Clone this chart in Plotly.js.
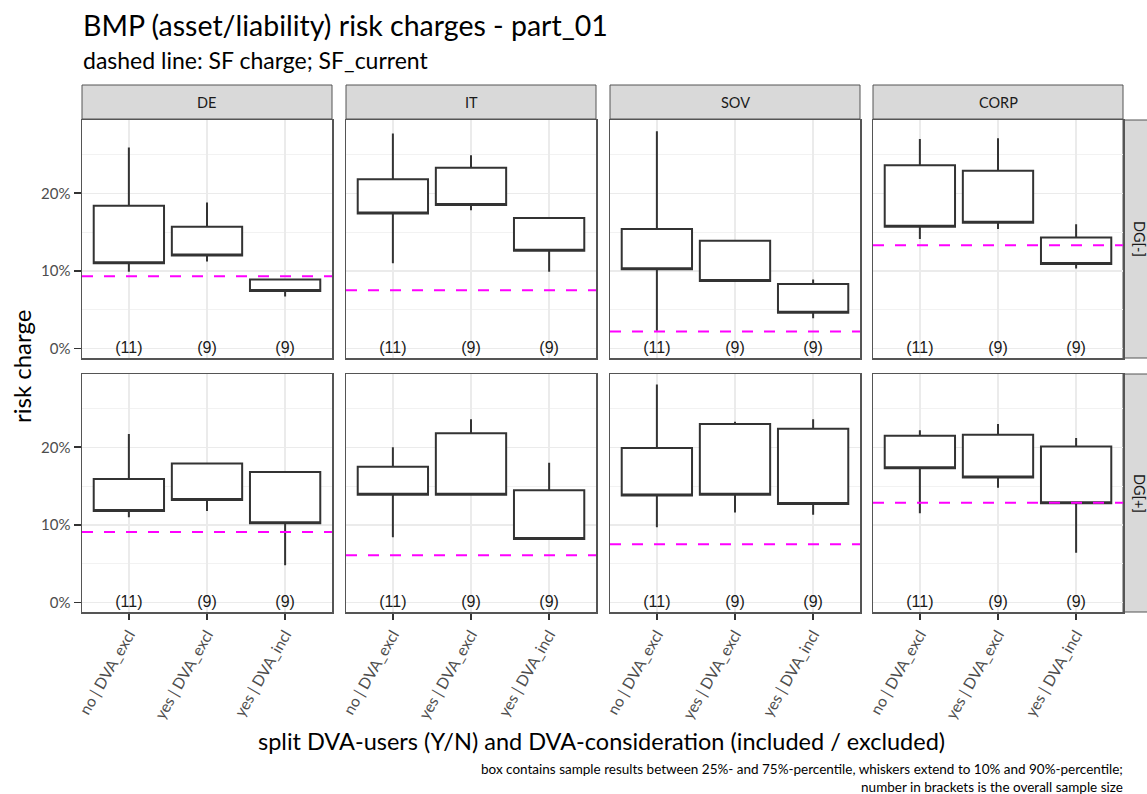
<!DOCTYPE html>
<html>
<head>
<meta charset="utf-8">
<script src="https://cdn.plot.ly/plotly-3.0.1.min.js"></script>
<style>html,body{margin:0;padding:0;background:#fff;}#chart{width:1147px;height:794px;}</style>
</head>
<body>
<div id="chart"></div>
<script>
// ---------- data (values in %) ----------
const categories = ['no | DVA_excl', 'yes | DVA_excl', 'yes | DVA_incl'];
const sampleSizes = ['(11)', '(9)', '(9)'];
const regions = ['DE', 'IT', 'SOV', 'CORP'];
const groups = ['DG[-]', 'DG[+]'];

// DG[-] row: per region [cat1, cat2, cat3]
const p10_minus = [[9.9, 11.2, 6.7], [11.0, 17.8, 9.9], [2.3, 8.6, 3.9], [14.1, 15.4, 10.3]];
const q25_minus = [[11.0, 12.0, 7.4], [17.4, 18.5, 12.6], [10.2, 8.7, 4.6], [15.7, 16.2, 10.9]];
const q75_minus = [[18.4, 15.7, 8.9], [21.8, 23.3, 16.8], [15.4, 13.9, 8.3], [23.6, 22.9, 14.3]];
const p90_minus = [[25.9, 18.8, 9.0], [27.7, 24.9, 16.8], [28.0, 13.9, 8.9], [27.0, 27.1, 16.0]];
const sf_minus = [9.3, 7.5, 2.2, 13.3];

// DG[+] row
const p10_plus = [[11.0, 11.8, 4.8], [8.4, 13.9, 8.1], [9.7, 11.6, 11.3], [11.5, 14.8, 6.4]];
const q25_plus = [[11.8, 13.2, 10.2], [13.9, 13.9, 8.2], [13.8, 13.9, 12.7], [17.3, 16.1, 12.8]];
const q75_plus = [[15.9, 17.9, 16.8], [17.5, 21.8, 14.45], [19.9, 23.0, 22.4], [21.5, 21.6, 20.1]];
const p90_plus = [[21.7, 17.9, 16.8], [20.0, 23.6, 18.0], [28.1, 23.3, 23.6], [22.2, 23.0, 21.2]];
const sf_plus = [9.1, 6.1, 7.5, 12.85];

const yTickVals = [0, 10, 20];
const yTickText = ['0%', '10%', '20%'];

// ---------- layout geometry ----------
const W = 1147, H = 794;
const px = v => v / W;
const py = v => 1 - v / H;
const colX = [[82, 332], [346, 596], [610, 860], [873, 1123]];
const rowY = [[120, 358], [374, 612]];
const yRange = [-1.22, 29.44];

const rows = [
  {p10: p10_minus, q25: q25_minus, q75: q75_minus, p90: p90_minus, sf: sf_minus},
  {p10: p10_plus, q25: q25_plus, q75: q75_plus, p90: p90_plus, sf: sf_plus}
];

const traces = [];
const shapes = [];
const annotations = [];
const layout = {
  width: W, height: H, autosize: false,
  margin: {l: 0, r: 0, t: 0, b: 0},
  paper_bgcolor: '#ffffff', plot_bgcolor: '#ffffff',
  showlegend: false,
  font: {family: 'Lato, sans-serif', color: '#1a1a1a'}
};

const xTickFont = {family: 'Lato, sans-serif', size: 15.5, color: '#4d4d4d'};
const yTickFont = {family: 'Lato, sans-serif', size: 15, color: '#4d4d4d'};

for (let r = 0; r < 2; r++) {
  for (let c = 0; c < 4; c++) {
    const p = r * 4 + c;
    const xa = p === 0 ? 'x' : 'x' + (p + 1);
    const ya = p === 0 ? 'y' : 'y' + (p + 1);
    const xKey = p === 0 ? 'xaxis' : 'xaxis' + (p + 1);
    const yKey = p === 0 ? 'yaxis' : 'yaxis' + (p + 1);
    const d = rows[r];

    traces.push({
      type: 'box', xaxis: xa, yaxis: ya,
      x: categories,
      q1: d.q25[c], median: d.q25[c], q3: d.q75[c],
      lowerfence: d.p10[c], upperfence: d.p90[c],
      width: 0.9, whiskerwidth: 0, boxpoints: false,
      fillcolor: '#ffffff',
      line: {color: '#333333', width: 2},
      hoverinfo: 'skip'
    });
    traces.push({
      type: 'scatter', mode: 'text', xaxis: xa, yaxis: ya,
      x: categories, y: categories.map(() => 0), text: sampleSizes,
      textposition: 'middle center',
      textfont: {family: 'Liberation Sans, Arial, sans-serif', size: 16, color: '#1a1a1a'},
      hoverinfo: 'skip', cliponaxis: false
    });

    shapes.push({
      type: 'line', xref: xa + ' domain', yref: ya,
      x0: 0, x1: 1, y0: d.sf[c], y1: d.sf[c],
      line: {color: '#ff00ff', width: 2, dash: '11px,11px'}, layer: 'above'
    });

    const bottom = r === 1;
    const left = c === 0;
    layout[xKey] = {
      domain: [px(colX[c][0]), px(colX[c][1])],
      anchor: ya, type: 'category', range: [-0.6, 2.6],
      showgrid: true, gridcolor: '#ebebeb', gridwidth: 1.5,
      zeroline: false,
      showline: true, mirror: true, linecolor: '#555555', linewidth: 1.5,
      ticks: bottom ? 'outside' : '', ticklen: 6, tickwidth: 1.8, tickcolor: '#333333',
      showticklabels: bottom, tickangle: -60, tickfont: xTickFont,
      fixedrange: true
    };
    layout[yKey] = {
      domain: [py(rowY[r][1]), py(rowY[r][0])],
      anchor: xa, range: yRange,
      tickvals: yTickVals, ticktext: yTickText,
      showgrid: true, gridcolor: '#ebebeb', gridwidth: 1.5,
      minor: {tickvals: [5, 15, 25], showgrid: true, gridcolor: '#f2f2f2', gridwidth: 1, ticks: ''},
      zeroline: false,
      showline: true, mirror: true, linecolor: '#555555', linewidth: 1.5,
      ticks: left ? 'outside' : '', ticklen: 7, tickwidth: 1.8, tickcolor: '#333333',
      showticklabels: left, tickfont: yTickFont,
      fixedrange: true
    };

    // top strips
    if (r === 0) {
      shapes.push({
        type: 'rect', xref: 'paper', yref: 'paper', layer: 'below',
        x0: px(colX[c][0]), x1: px(colX[c][1]), y0: py(119), y1: py(85),
        fillcolor: '#d9d9d9', line: {color: '#555555', width: 1}
      });
      annotations.push({
        xref: 'paper', yref: 'paper', x: px((colX[c][0] + colX[c][1]) / 2), y: py(102),
        text: regions[c], showarrow: false, xanchor: 'center', yanchor: 'middle',
        font: {family: 'Lato, sans-serif', size: 14.5, color: '#1a1a1a'}
      });
    }
  }
  // right strips
  shapes.push({
    type: 'rect', xref: 'paper', yref: 'paper', layer: 'below',
    x0: px(1123), x1: px(1160), y0: py(rowY[r][1]), y1: py(rowY[r][0]),
    fillcolor: '#d9d9d9', line: {color: '#555555', width: 1}
  });
  annotations.push({
    xref: 'paper', yref: 'paper', x: px(1140), y: py((rowY[r][0] + rowY[r][1]) / 2),
    text: groups[r], showarrow: false, textangle: 90, xanchor: 'center', yanchor: 'middle',
    font: {family: 'Lato, sans-serif', size: 14.5, color: '#1a1a1a'}
  });
}

// titles
annotations.push({
  xref: 'paper', yref: 'paper', x: px(81), y: py(25), xanchor: 'left', yanchor: 'middle',
  text: 'BMP (asset/liability) risk charges - part_01', showarrow: false,
  font: {family: 'Lato, sans-serif', size: 28.5, color: '#000000'}
});
annotations.push({
  xref: 'paper', yref: 'paper', x: px(81), y: py(60), xanchor: 'left', yanchor: 'middle',
  text: 'dashed line: SF charge; SF_current', showarrow: false,
  font: {family: 'Lato, sans-serif', size: 23, color: '#000000'}
});
annotations.push({
  xref: 'paper', yref: 'paper', x: px(601), y: py(741), xanchor: 'center', yanchor: 'middle',
  text: 'split DVA-users (Y/N) and DVA-consideration (included / excluded)', showarrow: false,
  font: {family: 'Lato, sans-serif', size: 23.5, color: '#000000'}
});
annotations.push({
  xref: 'paper', yref: 'paper', x: px(22), y: py(367), xanchor: 'center', yanchor: 'middle',
  text: 'risk charge', showarrow: false, textangle: -90,
  font: {family: 'Lato, sans-serif', size: 24, color: '#000000'}
});
annotations.push({
  xref: 'paper', yref: 'paper', x: px(1125), y: py(778), xanchor: 'right', yanchor: 'middle',
  align: 'right',
  text: 'box contains sample results between 25%- and 75%-percentile, whiskers extend to 10% and 90%-percentile;<br>number in brackets is the overall sample size',
  showarrow: false,
  font: {family: 'Lato, sans-serif', size: 13.5, color: '#000000'}
});

layout.shapes = shapes;
layout.annotations = annotations;

Plotly.newPlot('chart', traces, layout, {displayModeBar: false, staticPlot: true});
</script>
</body>
</html>
